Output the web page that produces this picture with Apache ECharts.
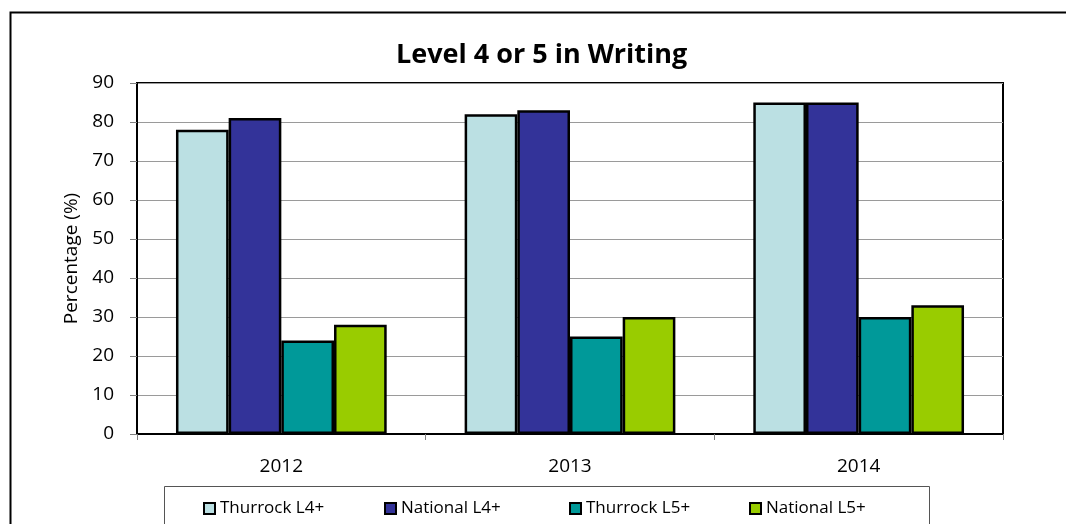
<!DOCTYPE html>
<html>
<head>
<meta charset="utf-8">
<script src="https://cdn.jsdelivr.net/npm/echarts@6/dist/echarts.min.js"></script>
<style>
html,body{margin:0;padding:0;background:#fff;}
#chart{width:1066px;height:524px;}
</style>
</head>
<body>
<div id="chart"></div>
<script>
const categories = ['2012', '2013', '2014'];
const thurrockL4 = [78, 82, 85];
const nationalL4 = [81, 83, 85];
const thurrockL5 = [24, 25, 30];
const nationalL5 = [28, 30, 33];
const seriesNames = ['Thurrock L4+', 'National L4+', 'Thurrock L5+', 'National L5+'];
const seriesColors = ['#BBE0E3', '#333399', '#009999', '#99CC00'];
const seriesData = [thurrockL4, nationalL4, thurrockL5, nationalL5];

const FONT = 'Open Sans';
const chart = echarts.init(document.getElementById('chart'), null, {renderer: 'canvas'});

const legendLefts = [203, 384, 569, 749];

const option = {
  backgroundColor: '#fff',
  animation: false,
  title: {
    text: 'Level 4 or 5 in Writing',
    left: 396,
    top: 42,
    padding: 0,
    textStyle: {fontFamily: FONT, fontSize: 27, fontWeight: 'bold', color: '#000'}
  },
  legend: seriesNames.map((n, i) => ({
    data: [n],
    left: legendLefts[i],
    top: 500,
    padding: 0,
    icon: 'rect',
    itemWidth: 11,
    itemHeight: 11,
    itemGap: 0,
    textStyle: {fontFamily: FONT, fontSize: 17, color: '#000'}
  })),
  grid: {
    left: 137, right: 63, top: 83, bottom: 90,
    show: true, borderColor: '#000', borderWidth: 2, backgroundColor: 'transparent'
  },
  xAxis: {
    type: 'category',
    data: categories,
    axisLine: {show: true, lineStyle: {color: '#000', width: 2}},
    axisTick: {show: true, alignWithLabel: false, length: 6, lineStyle: {color: '#808080'}},
    axisLabel: {fontFamily: FONT, fontSize: 19, color: '#000', margin: 23}
  },
  yAxis: {
    type: 'value',
    min: 0, max: 90, interval: 10,
    name: 'Percentage (%)',
    nameLocation: 'middle',
    nameGap: 54,
    nameTextStyle: {fontFamily: FONT, fontSize: 19, color: '#000'},
    axisLine: {show: true, lineStyle: {color: '#000', width: 2}},
    axisTick: {show: true, length: 7, lineStyle: {color: '#808080'}},
    axisLabel: {fontFamily: FONT, fontSize: 19, color: '#000', margin: 23},
    splitLine: {show: true, lineStyle: {color: '#9a9a9a', width: 1}}
  },
  series: seriesNames.map((n, i) => ({
    name: n,
    type: 'bar',
    data: seriesData[i],
    barGap: '0%',
    barCategoryGap: '27%',
    itemStyle: {color: seriesColors[i], borderColor: '#000', borderWidth: 2.5}
  })),
  graphic: [
    {type: 'rect', left: 8, top: 10, shape: {x: 0, y: 0, width: 1100, height: 600},
     style: {fill: 'none', stroke: '#000', lineWidth: 2}, silent: true, z: -1},
    {type: 'rect', shape: {x: 164.5, y: 486.5, width: 765, height: 60},
     style: {fill: 'none', stroke: '#555', lineWidth: 1}, silent: true, z: -1}
  ]
};
chart.setOption(option);
</script>
</body>
</html>
